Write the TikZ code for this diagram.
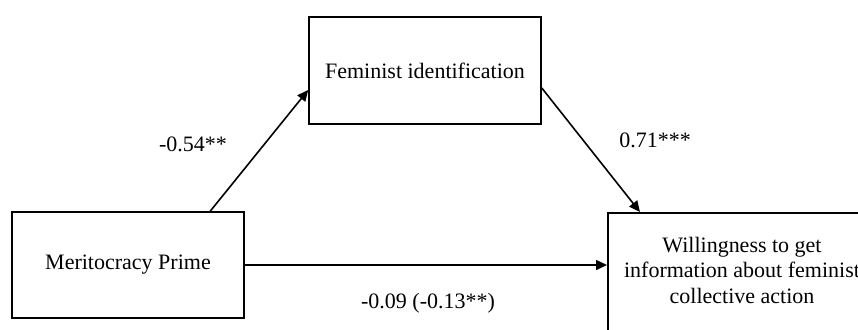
\documentclass[tikz,border=0pt]{standalone}
\usepackage{fontspec}
\setmainfont{Liberation Serif}
\usetikzlibrary{arrows.meta,calc}
\begin{document}
\begin{tikzpicture}[x=0.5pt,y=-0.5pt,
  box/.style={draw,line width=0.8pt,inner sep=0pt,font=\fontsize{11}{12.75}\selectfont},
  conn/.style={line width=0.8pt,-{Triangle[length=5.5pt,width=5pt]}},
  coef/.style={font=\fontsize{11}{13}\selectfont,inner sep=0pt}]
\useasboundingbox (0,0) rectangle (858,329);
\node[box,minimum width=116pt,minimum height=53pt] (mer) at (128,265) {Meritocracy Prime};
\node[box,minimum width=116pt,minimum height=53.5pt] (fem) at (425,70.5) {Feminist identification};
\node[box,minimum width=140pt,minimum height=80pt,anchor=north west] (will) at (607,212) {};
\node[coef,align=center,font=\fontsize{11}{12.75}\selectfont] (willtxt) at (742,270) {Willingness to get\\information about feminist\\collective action};
\draw[conn] ($(mer.north west)+(199,0)$) -- ($(fem.west)+(0,19.5)$);
\draw[conn] ($(fem.east)+(0,17.5)$) -- ($(will.north west)+(33,0)$);
\draw[conn] (mer.east) -- (will.west |- mer.east);
\node[coef] (l1) at (193,144) {-0.54**};
\node[coef] (l2) at (655,140) {0.71***};
\node[coef] (l3) at (428,303) {-0.09 (-0.13**)};
\end{tikzpicture}
\end{document}
